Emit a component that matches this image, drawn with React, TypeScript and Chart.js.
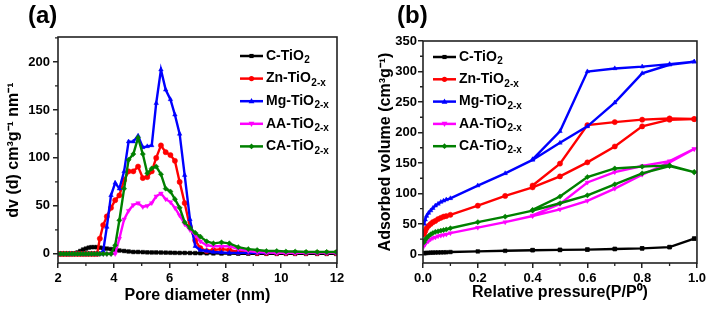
import React, { useEffect, useRef } from "react";
import { Chart, registerables } from "chart.js";
Chart.register(...registerables);

const FONT = "'Liberation Sans', Arial, Helvetica, sans-serif";

const LABELS = ["C-TiO2", "Zn-TiO2-x", "Mg-TiO2-x", "AA-TiO2-x", "CA-TiO2-x"];
const COLORS = ["#000000", "#ff0000", "#0000ff", "#ff00ff", "#008000"];
const MARKERS = ["rect", "circle", "triangle", "triangle", "rectRot"];
const MARKER_ROT = [0, 0, 0, 180, 0];

// ---------- (a) pore size distribution ----------
const poreDiameter = [
  2.0, 2.1, 2.2, 2.3, 2.4, 2.5, 2.6, 2.7, 2.8, 2.9, 3.0, 3.1, 3.2, 3.3, 3.4,
  3.5, 3.62, 3.75, 3.9, 4.05, 4.2, 4.37, 4.53, 4.7, 4.87, 5.04, 5.2, 5.36, 5.52,
  5.69, 5.86, 6.03, 6.19, 6.36, 6.54, 6.73, 6.92, 7.1, 7.33, 7.57, 7.86, 8.14,
  8.46, 8.82, 9.14, 9.47, 9.84, 10.17, 10.5, 10.89, 11.29, 11.63, 11.97,
];
const poreC = [
  0, 0, 0, 0, 0, 0, 0.5, 1.5, 3, 4.5, 5.5, 6.5, 7, 7, 7,
  6.5, 6, 5.5, 5, 4.3, 3.5, 3, 2.5, 2, 2, 1.8, 1.6, 1.5, 1.5,
  1.4, 1.3, 1.2, 1.1, 1, 1, 0.9, 0.8, 0.7, 0.6, 0.5, 0.4, 0.3,
  0.2, 0.2, 0.1, 0.1, 0, 0, 0, 0, 0, 0, 0,
];
const poreZn = [
  0, 0, 0, 0, 0, 0, 0, 0, 0, 0, 0, 0, 0, 0, 0,
  16, 30, 39, 48, 56, 61, 77, 86, 86, 91, 79, 80, 86, 100,
  113, 106, 103, 97, 75, 53, 28, 14, 6, 3, 4, 5, 4,
  2, 1.5, 1, 1, 1, 1, 1, 1, 1, 1, 1,
];
const poreMg = [
  0, 0, 0, 0, 0, 0, 0, 0, 0, 0, 0, 0, 0, 0, 0,
  0, 3, 28, 61, 74, 68, 86, 117, 117, 123, 111, 112, 113, 157,
  192, 171, 161, 145, 125, 82, 36, 8, 4, 3, 2, 1.5, 1,
  1, 1, 1, 1, 1, 1, 1, 1, 1, 1, 1,
];
const poreAA = [
  0, 0, 0, 0, 0, 0, 0, 0, 0, 0, 0, 0, 0, 0, 0,
  0, 0, 0, 0, 0, 16, 36, 45, 51, 53, 49, 50, 53, 60,
  63, 57, 54, 48, 40, 31, 25, 20, 13, 9, 8, 8, 8,
  5, 3, 2, 1.5, 1, 1, 1, 1, 1, 1, 1,
];
const poreCA = [
  0, 0, 0, 0, 0, 0, 0, 0, 0, 0, 0, 0, 0, 0, 0,
  0, 0, 0, 0, 9, 35, 68, 98, 104, 121, 104, 84, 89, 91,
  83, 68, 65, 57, 48, 33, 27, 22, 18, 13, 11, 12, 11,
  7, 5, 4, 3, 3, 2.5, 2.5, 2, 2, 2, 2,
];
const poreXTicks = [2, 4, 6, 8, 10, 12];
const poreYTicks = [0, 50, 100, 150, 200];

// ---------- (b) N2 adsorption-desorption isotherms ----------
const adsP = [0.004, 0.008, 0.013, 0.02, 0.028, 0.036, 0.045, 0.055, 0.065, 0.075, 0.085, 0.1, 0.2, 0.3, 0.4, 0.5, 0.6, 0.7, 0.8, 0.9, 0.99];
const desP = [0.99, 0.9, 0.8, 0.7, 0.6, 0.5, 0.4];

const adsC = [2, 2.3, 2.5, 2.7, 3, 3, 3.2, 3.3, 3.4, 3.5, 3.6, 4, 5, 6, 7, 7.5, 8, 9, 10, 12, 26];
const desC = [26, 12, 10, 9, 8, 7.5, 7];
const adsZn = [33, 38, 43, 47, 50, 53, 55, 58, 60, 62, 63, 65, 80, 96, 110, 128, 151, 177, 210, 221, 222];
const desZn = [222, 223, 221, 217, 212, 149, 113];
const adsMg = [50, 57, 63, 68, 72, 76, 80, 83, 86, 88, 90, 92, 113, 133, 155, 183, 210, 249, 297, 311, 316];
const desMg = [316, 312, 308, 305, 300, 202, 156];
const adsAA = [14, 17, 20, 22, 25, 27, 28, 30, 31, 32, 33, 35, 44, 53, 63, 74, 88, 108, 131, 151, 173];
const desAA = [173, 153, 145, 135, 118, 83, 64];
const adsCA = [20, 24, 27, 30, 33, 35, 37, 38, 39, 40, 41, 43, 53, 62, 72, 84, 97, 115, 133, 145, 135];
const desCA = [135, 146, 144, 141, 127, 95, 73];

const presXTicks = [0, 0.2, 0.4, 0.6, 0.8, 1.0];
const presYTicks = [0, 50, 100, 150, 200, 250, 300, 350];

// ---------- helpers ----------
function minorsOf(majors: number[], min: number, max: number) {
  const step = majors[1] - majors[0];
  const out: number[] = [majors[0] - step / 2];
  majors.forEach((v) => out.push(v + step / 2));
  return out.filter((v) => v > min && v < max);
}

function drawMarker(ctx: CanvasRenderingContext2D, style: string, rot: number, x: number, y: number, r: number, color: string) {
  ctx.save();
  ctx.fillStyle = color;
  ctx.translate(x, y);
  ctx.rotate((rot * Math.PI) / 180);
  ctx.beginPath();
  if (style === "rect") {
    const s = r * 0.8;
    ctx.rect(-s, -s, 2 * s, 2 * s);
  } else if (style === "circle") {
    ctx.arc(0, 0, r, 0, Math.PI * 2);
  } else if (style === "triangle") {
    ctx.moveTo(0, -r * 1.2);
    ctx.lineTo(r * 1.1, r * 0.8);
    ctx.lineTo(-r * 1.1, r * 0.8);
    ctx.closePath();
  } else {
    ctx.moveTo(0, -r * 1.1);
    ctx.lineTo(r * 1.1, 0);
    ctx.lineTo(0, r * 1.1);
    ctx.lineTo(-r * 1.1, 0);
    ctx.closePath();
  }
  ctx.fill();
  ctx.restore();
}

const decoPlugin = {
  id: "deco",
  afterDatasetsDraw(chart: any, _args: any, o: any) {
    const ctx: CanvasRenderingContext2D = chart.ctx;
    const ca = chart.chartArea;
    const xs = chart.scales.x;
    const ys = chart.scales.y;
    ctx.save();
    // frame
    ctx.strokeStyle = "#222";
    ctx.lineWidth = 1.6;
    ctx.strokeRect(ca.left, ca.top, ca.right - ca.left, ca.bottom - ca.top);
    // minor ticks
    ctx.lineWidth = 1.3;
    ctx.beginPath();
    minorsOf(o.xTicks, xs.min, xs.max).forEach((v) => {
      const p = xs.getPixelForValue(v);
      ctx.moveTo(p, ca.bottom);
      ctx.lineTo(p, ca.bottom + 3);
    });
    minorsOf(o.yTicks, ys.min, ys.max).forEach((v) => {
      const p = ys.getPixelForValue(v);
      ctx.moveTo(ca.left, p);
      ctx.lineTo(ca.left - 3, p);
    });
    ctx.stroke();
    // legend
    chart.data.datasets.forEach((ds: any, i: number) => {
      const y = o.legendY + i * o.legendDy;
      ctx.strokeStyle = ds.borderColor;
      ctx.lineWidth = 2.5;
      ctx.beginPath();
      ctx.moveTo(o.legendX, y);
      ctx.lineTo(o.legendX + o.legendLen, y);
      ctx.stroke();
      drawMarker(ctx, MARKERS[i], MARKER_ROT[i], o.legendX + o.legendLen / 2, y, 2.6, ds.borderColor);
      const m = /^(.*TiO)(.*)$/.exec(ds.label) as RegExpExecArray;
      ctx.fillStyle = "#000";
      ctx.textAlign = "left";
      ctx.textBaseline = "middle";
      ctx.font = `bold 14px ${FONT}`;
      const tx = o.legendX + o.legendLen + 3;
      ctx.fillText(m[1], tx, y);
      const w = ctx.measureText(m[1]).width;
      ctx.font = `bold 10px ${FONT}`;
      ctx.fillText(m[2], tx + w + 0.5, y + 4.5);
    });
    // panel label
    ctx.fillStyle = "#000";
    ctx.textAlign = "left";
    ctx.textBaseline = "alphabetic";
    ctx.font = `bold 24px ${FONT}`;
    ctx.fillText(o.label, o.labelX, o.labelY);
    ctx.restore();
  },
};

function makeAxis(p: {
  min: number; max: number; ticks: number[]; fmt: (v: number) => string;
  title: string; titlePad: any; size: number; isX: boolean; tickPad: number;
}) {
  return {
    type: "linear",
    min: p.min,
    max: p.max,
    afterBuildTicks: (s: any) => {
      s.ticks = p.ticks.map((v) => ({ value: v }));
    },
    afterFit: (s: any) => {
      if (p.isX) s.height = p.size;
      else s.width = p.size;
    },
    ticks: {
      autoSkip: false,
      maxRotation: 0,
      padding: p.tickPad,
      color: "#000",
      font: { family: FONT, size: 13, weight: "bold" },
      callback: (v: any) => p.fmt(Number(v)),
    },
    grid: {
      display: true,
      drawOnChartArea: false,
      drawTicks: true,
      tickLength: 5,
      color: "#222",
      lineWidth: 1.5,
    },
    border: { display: false },
    title: {
      display: true,
      text: p.title,
      color: "#000",
      font: { family: FONT, size: 16, weight: "bold" },
      padding: p.titlePad,
    },
  };
}

function baseDataset(i: number, data: { x: number; y: number }[]) {
  return {
    label: LABELS[i],
    data,
    borderColor: COLORS[i],
    backgroundColor: COLORS[i],
    borderWidth: 2.4,
    pointRadius: 2.6,
    pointHoverRadius: 2.6,
    pointStyle: MARKERS[i],
    pointRotation: MARKER_ROT[i],
    pointBorderWidth: 0.5,
    showLine: true,
    tension: 0,
    order: LABELS.length - i,
  };
}

function configA(): any {
  const series = [poreC, poreZn, poreMg, poreAA, poreCA];
  return {
    type: "scatter",
    data: {
      datasets: series.map((ys, i) => baseDataset(i, ys.map((y, j) => ({ x: poreDiameter[j], y })))),
    },
    options: {
      animation: false,
      responsive: true,
      maintainAspectRatio: false,
      layout: { padding: { left: 0, top: 37, right: 18, bottom: 0 } },
      plugins: {
        legend: { display: false },
        tooltip: { enabled: false },
        deco: {
          label: "(a)", labelX: 28, labelY: 23,
          xTicks: poreXTicks, yTicks: poreYTicks,
          legendX: 240, legendY: 56, legendDy: 22.6, legendLen: 23,
        },
      },
      scales: {
        x: makeAxis({
          min: 2, max: 12, ticks: poreXTicks, fmt: (v) => String(v),
          title: "Pore diameter (nm)", titlePad: { top: 0, bottom: 5 },
          size: 47, isX: true, tickPad: 3,
        }),
        y: makeAxis({
          min: -9.5, max: 226, ticks: poreYTicks, fmt: (v) => String(v),
          title: "dv (d) cm³g⁻¹ nm⁻¹", titlePad: { top: 4, bottom: 0 },
          size: 58, isX: false, tickPad: 3,
        }),
      },
    },
    plugins: [decoPlugin],
  };
}

function configB(): any {
  const ads = [adsC, adsZn, adsMg, adsAA, adsCA];
  const des = [desC, desZn, desMg, desAA, desCA];
  return {
    type: "scatter",
    data: {
      datasets: ads.map((a, i) =>
        baseDataset(i, [
          ...a.map((y, j) => ({ x: adsP[j], y })),
          ...des[i].map((y, j) => ({ x: desP[j], y })),
        ])
      ),
    },
    options: {
      animation: false,
      responsive: true,
      maintainAspectRatio: false,
      layout: { padding: { left: 0, top: 41, right: 10, bottom: 0 } },
      plugins: {
        legend: { display: false },
        tooltip: { enabled: false },
        deco: {
          label: "(b)", labelX: 42, labelY: 23,
          xTicks: presXTicks, yTicks: presYTicks,
          legendX: 78, legendY: 57, legendDy: 22.3, legendLen: 23,
        },
      },
      scales: {
        x: makeAxis({
          min: 0, max: 1, ticks: presXTicks, fmt: (v) => v.toFixed(1),
          title: "Relative pressure(P/P⁰)", titlePad: { top: 0, bottom: 8 },
          size: 47, isX: true, tickPad: 3,
        }),
        y: makeAxis({
          min: -14, max: 350, ticks: presYTicks, fmt: (v) => String(v),
          title: "Adsorbed volume (cm³g⁻¹)", titlePad: { top: 21, bottom: 0 },
          size: 68, isX: false, tickPad: 1,
        }),
      },
    },
    plugins: [decoPlugin],
  };
}

export default function App() {
  const refA = useRef<HTMLCanvasElement>(null);
  const refB = useRef<HTMLCanvasElement>(null);
  useEffect(() => {
    const a = new Chart(refA.current as HTMLCanvasElement, configA());
    const b = new Chart(refB.current as HTMLCanvasElement, configB());
    return () => {
      a.destroy();
      b.destroy();
    };
  }, []);
  return (
    <div style={{ position: "fixed", left: 0, top: 0, width: 709, height: 310, background: "#fff" }}>
      <div style={{ position: "absolute", left: 0, top: 0, width: 355, height: 310 }}>
        <canvas ref={refA} />
      </div>
      <div style={{ position: "absolute", left: 355, top: 0, width: 354, height: 310 }}>
        <canvas ref={refB} />
      </div>
    </div>
  );
}
